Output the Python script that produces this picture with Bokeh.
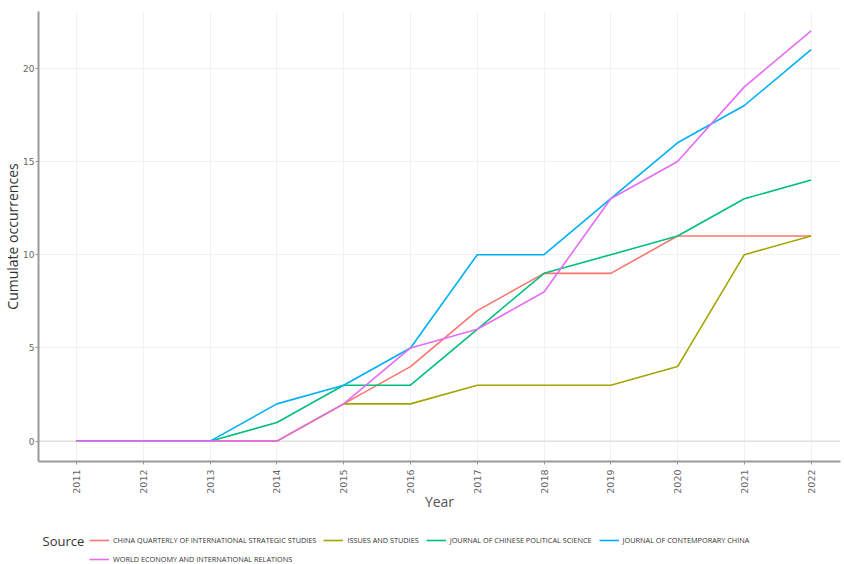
import math
from bokeh.plotting import figure
from bokeh.layouts import column
from bokeh.models import Range1d, FixedTicker, Legend, LegendItem, Label, Span
from bokeh.embed import file_html
from bokeh.resources import INLINE

years = list(range(2011, 2023))
year_ticks = list(range(2011, 2023))
y_ticks = [0, 5, 10, 15, 20]

series_names = [
    "CHINA QUARTERLY OF INTERNATIONAL STRATEGIC STUDIES",
    "ISSUES AND STUDIES",
    "JOURNAL OF CHINESE POLITICAL SCIENCE",
    "JOURNAL OF CONTEMPORARY CHINA",
    "WORLD ECONOMY AND INTERNATIONAL RELATIONS",
]
cqiss = [0, 0, 0, 0, 2, 4, 7, 9, 9, 11, 11, 11]
ias = [0, 0, 0, 0, 2, 2, 3, 3, 3, 4, 10, 11]
jcps = [0, 0, 0, 1, 3, 3, 6, 9, 10, 11, 13, 14]
jcc = [0, 0, 0, 2, 3, 5, 10, 10, 13, 16, 18, 21]
weir = [0, 0, 0, 0, 2, 5, 6, 8, 13, 15, 19, 22]
series_values = [cqiss, ias, jcps, jcc, weir]
colors = ["#F8766D", "#A3A500", "#00BF7D", "#00B0F6", "#E76BF3"]

FONT = "Open Sans"
W = 844
X0, X1 = 2010.43, 2022.44

p = figure(width=W, height=524, output_backend="svg", toolbar_location=None,
           x_range=Range1d(X0, X1), y_range=Range1d(-1.09, 23.04),
           min_border_left=0, min_border_right=4, min_border_top=11, min_border_bottom=63)
p.outline_line_color = None
p.background_fill_color = "white"

# grids
p.xgrid.ticker = FixedTicker(ticks=year_ticks)
p.ygrid.ticker = FixedTicker(ticks=y_ticks)
p.xgrid.grid_line_color = "#f1f1f1"
p.ygrid.grid_line_color = "#f1f1f1"
p.add_layout(Span(location=0, dimension="width", line_color="#dcdcdc", line_width=1.2,
                  level="underlay"))

# axes
p.xaxis.ticker = FixedTicker(ticks=year_ticks)
p.yaxis.ticker = FixedTicker(ticks=y_ticks)
p.xaxis.major_label_orientation = math.pi / 2
for ax in (p.xaxis, p.yaxis):
    ax.axis_line_color = "#9a9a9a"
    ax.axis_line_width = 2
    ax.major_tick_line_color = "#9a9a9a"
    ax.major_tick_in = 0
    ax.major_tick_out = 3
    ax.minor_tick_line_color = None
    ax.major_label_text_color = "#666666"
    ax.major_label_text_font = "DejaVu Sans"
    ax.axis_label_text_font = FONT
    ax.axis_label_text_font_style = "normal"
p.xaxis.major_label_text_font_size = "9.5px"
p.yaxis.major_label_text_font_size = "9px"
p.xaxis.major_label_standoff = 5
p.yaxis.major_label_standoff = 1
p.xaxis.axis_label = "Year"
p.yaxis.axis_label = "Cumulate occurrences"
p.xaxis.axis_label_text_font_size = "14px"
p.yaxis.axis_label_text_font_size = "14px"
p.xaxis.axis_label_text_color = "#555555"
p.yaxis.axis_label_text_color = "#333333"
p.xaxis.axis_label_standoff = -5
p.yaxis.axis_label_standoff = -2

for name, vals, col in zip(series_names, series_values, colors):
    p.line(years, vals, line_color=col, line_width=1.6)

# legend strip below the chart (its frame is aligned with the chart's frame)
leg = figure(width=W, height=40, output_backend="svg", toolbar_location=None,
             x_range=Range1d(X0, X1), y_range=Range1d(100, 140),
             min_border_left=0, min_border_right=4, min_border_top=0, min_border_bottom=0)
leg.outline_line_color = None
leg.axis.visible = False
leg.grid.visible = False

# key lines: same series, lying outside this strip's visible range
key_renderers = [leg.line(years, vals, line_color=col, line_width=1.6)
                 for vals, col in zip(series_values, colors)]

def make_legend(items, loc):
    return Legend(items=items, location=loc, orientation="horizontal",
                  padding=0, margin=0, spacing=7, label_standoff=4,
                  glyph_width=20, glyph_height=10, label_height=10,
                  label_text_font=FONT, label_text_font_size="7.3px",
                  label_text_color="#333333",
                  background_fill_alpha=0, border_line_color=None)

items1 = [LegendItem(label=series_names[i], renderers=[key_renderers[i]]) for i in range(4)]
items2 = [LegendItem(label=series_names[4], renderers=[key_renderers[4]])]
leg.add_layout(make_legend(items1, (51, 19)), "center")
leg.add_layout(make_legend(items2, (51, 0)), "center")
leg.add_layout(Label(x=X0 + 4 / 66.7, y=124, text="Source", text_font=FONT,
                     text_font_size="13px", text_color="#333333",
                     text_baseline="middle", text_align="left"))

layout = column(p, leg, spacing=0)
open("out.html", "w").write(file_html(layout, INLINE))
